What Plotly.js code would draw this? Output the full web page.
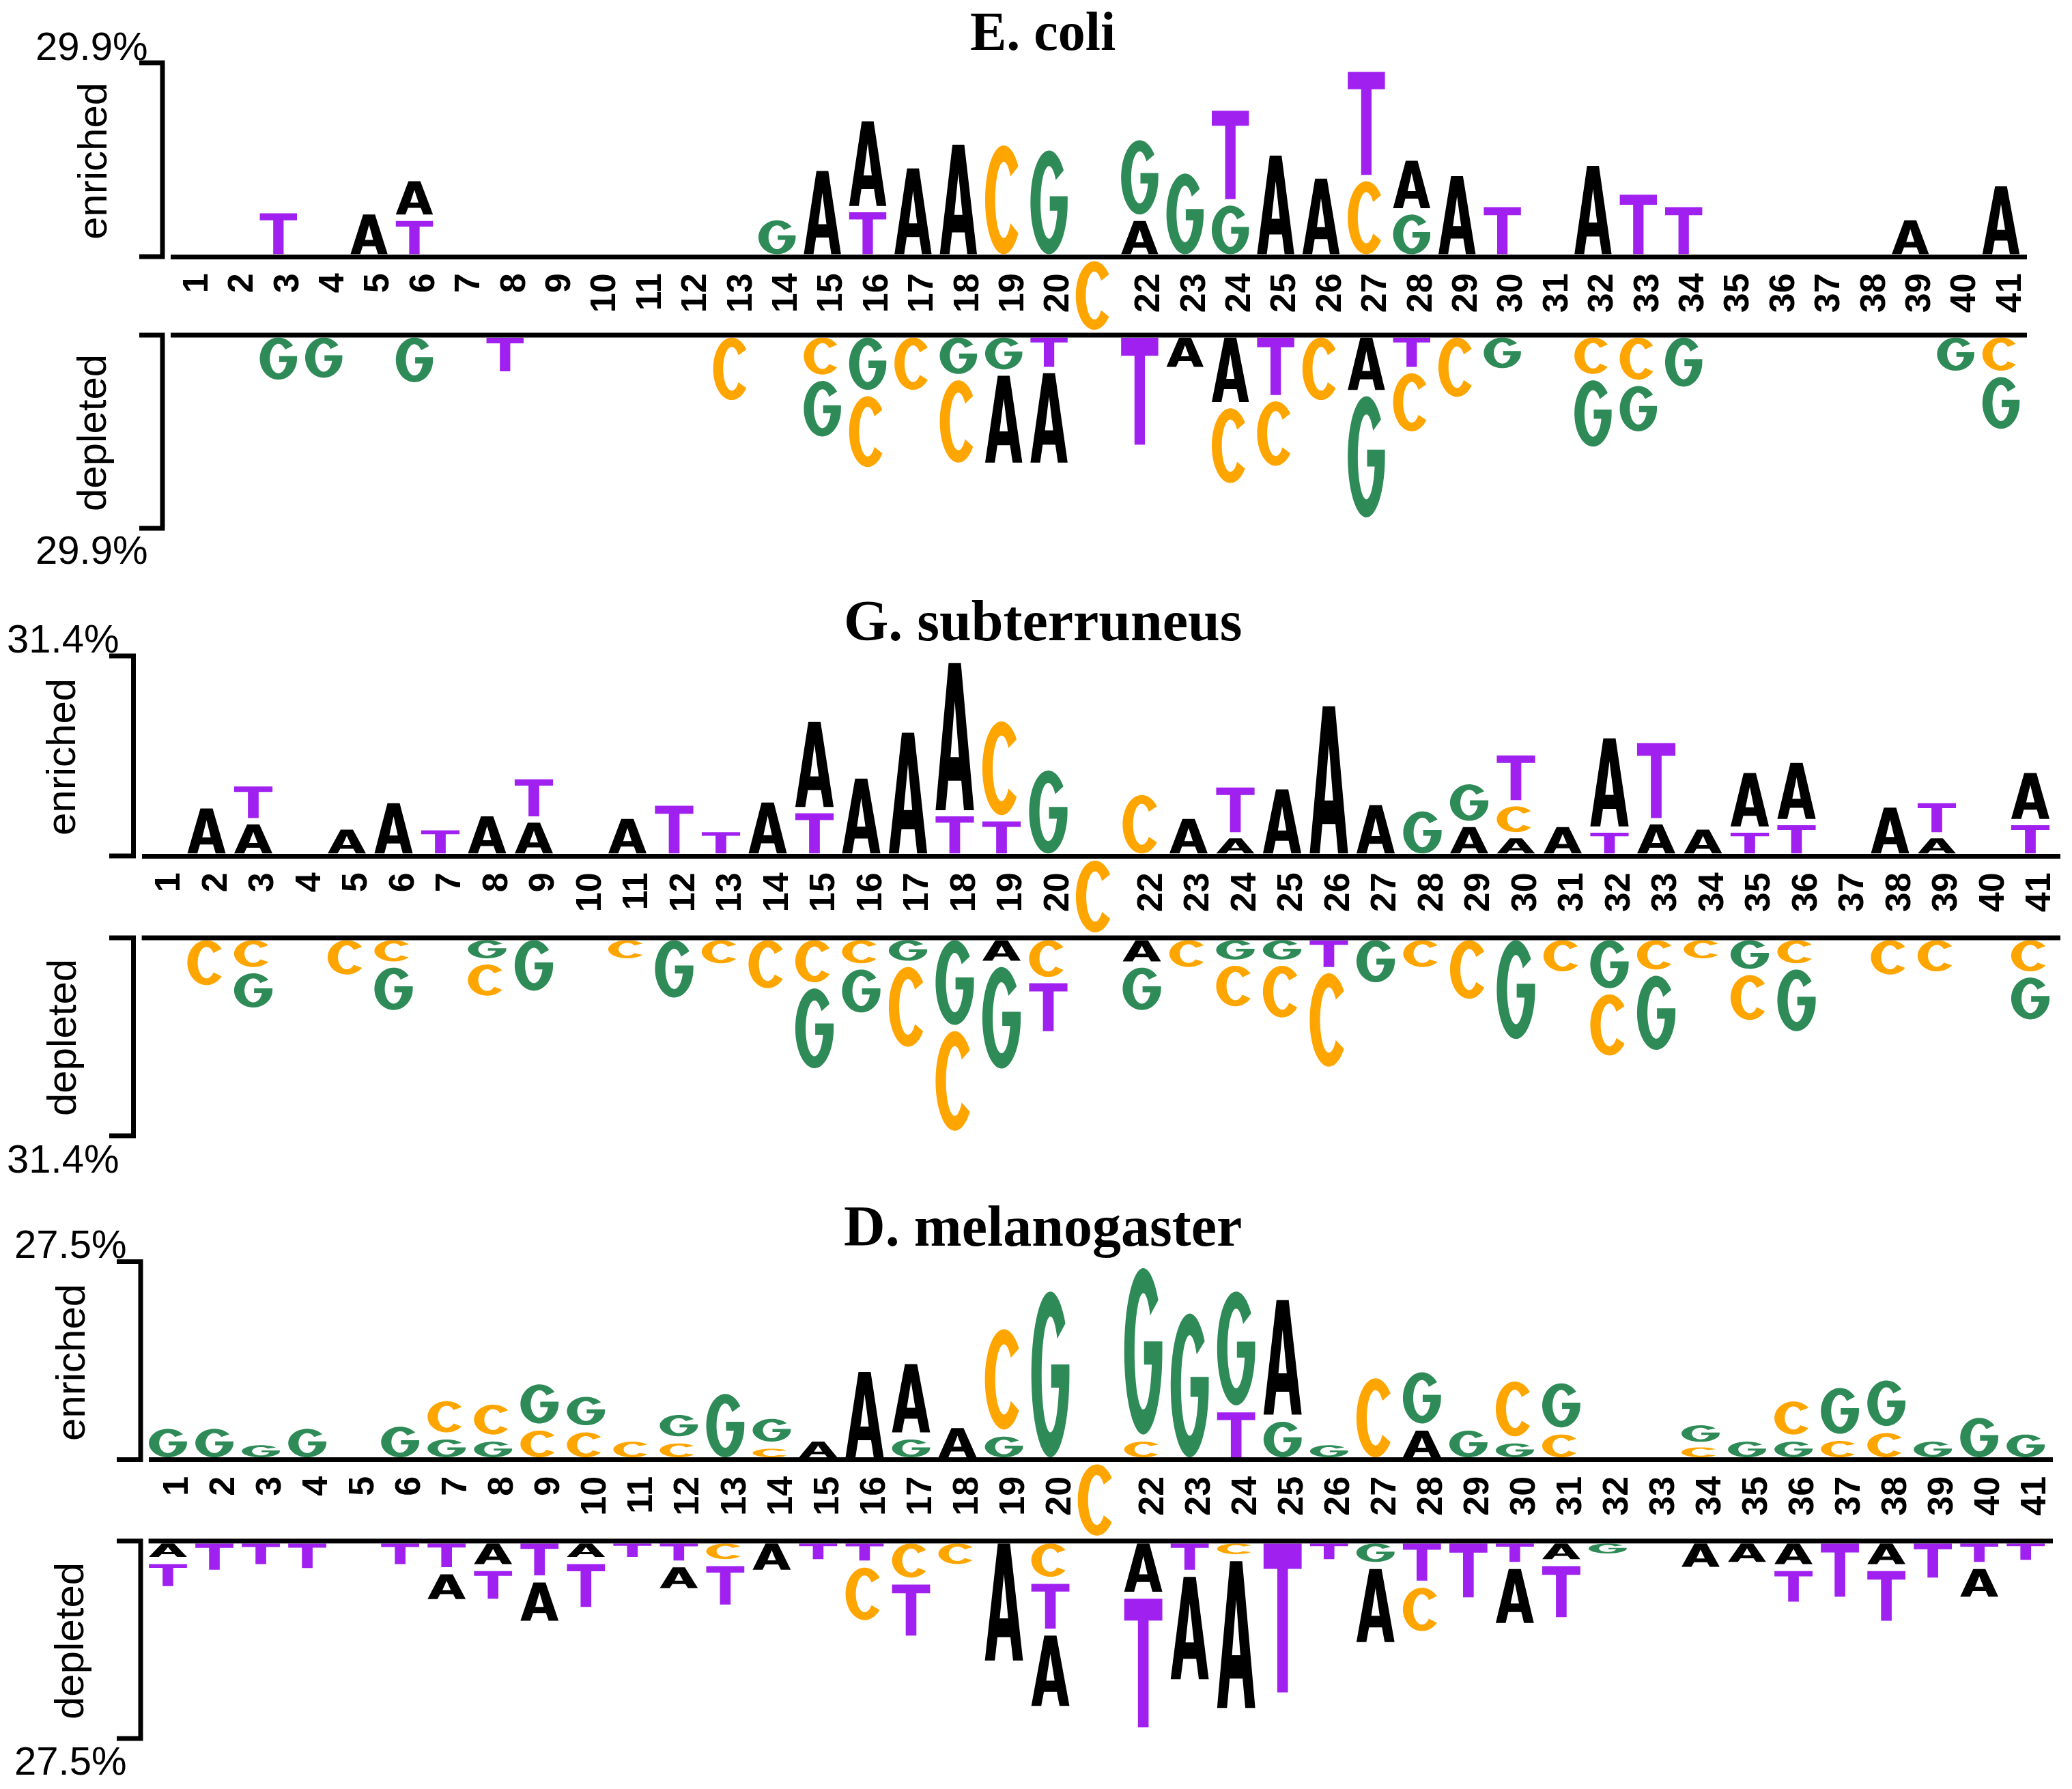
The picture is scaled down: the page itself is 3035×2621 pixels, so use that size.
<!DOCTYPE html>
<html>
<head>
<meta charset="utf-8">
<script src="https://cdn.plot.ly/plotly-3.0.1.min.js"></script>
<style>html,body{margin:0;padding:0;background:#fff}</style>
</head>
<body>
<div id="chart" style="width:3035px;height:2621px"></div>
<script>
// ---------------- DATA ----------------
const speciesTitles = ['E. coli', 'G. subterruneus', 'D. melanogaster'];
const scaleMax = [29.9, 31.4, 27.5];
const scaleLabels = ['29.9%', '31.4%', '27.5%'];
const tickPositions = [1,2,3,4,5,6,7,8,9,10,11,12,13,14,15,16,17,18,19,20,22,23,24,25,26,27,28,29,30,31,32,33,34,35,36,37,38,39,40,41];
const tickText = ['1','2','3','4','5','6','7','8','9','10','11','12','13','14','15','16','17','18','19','20','22','23','24','25','26','27','28','29','30','31','32','33','34','35','36','37','38','39','40','41'];
const centerPosition = 21;
const centerBase = 'C';

// [position, base, height %] listed from the baseline outward
const ecoliEnriched = [
  [3,'T',6.4],[5,'A',6.2],[6,'T',5.2],[6,'A',6.2],[14,'G',5.3],[15,'A',13.0],[16,'T',6.55],[16,'A',14.2],
  [17,'A',13.4],[18,'A',17.1],[19,'C',17.0],[20,'G',16.2],[22,'A',5.2],[22,'G',12.6],[23,'G',12.6],
  [24,'G',7.6],[24,'T',14.8],[25,'A',15.4],[26,'A',11.8],[27,'C',11.4],[27,'T',17.1],[28,'G',6.2],[28,'A',8.4],
  [29,'A',12.2],[30,'T',7.35],[32,'A',13.8],[33,'T',9.3],[34,'T',7.35],[39,'A',5.3],[41,'A',10.6]
];
const ecoliDepleted = [
  [3,'G',6.6],[4,'G',6.3],[6,'G',7.0],[8,'T',5.3],[13,'C',9.8],[15,'C',5.8],[15,'G',9.7],[16,'G',8.2],[16,'C',12.1],
  [17,'C',8.2],[18,'G',5.7],[18,'C',13.9],[19,'G',5.0],[19,'A',14.6],[20,'T',4.6],[20,'A',15.0],[22,'T',16.8],
  [23,'A',4.6],[24,'A',10.1],[24,'C',12.7],[25,'T',9.0],[25,'C',11.1],[26,'C',9.8],[27,'A',8.2],[27,'G',20.0],
  [28,'T',4.6],[28,'C',10.1],[29,'C',9.3],[30,'G',4.8],[32,'C',5.7],[32,'G',11.4],[33,'C',6.6],[33,'G',8.1],
  [34,'G',7.7],[40,'G',5.2],[41,'C',5.2],[41,'G',9.1]
];
const gsubEnriched = [
  [2,'A',7.15],[3,'A',4.65],[3,'T',6.0],[5,'A',3.8],[6,'A',8.0],[7,'T',3.7],[8,'A',5.9],[9,'A',4.9],[9,'T',6.9],
  [11,'A',5.5],[12,'T',7.6],[13,'T',3.4],[14,'A',8.1],[15,'T',6.4],[15,'A',14.5],[16,'A',11.9],[17,'A',19.2],
  [18,'T',5.9],[18,'A',24.4],[19,'T',5.1],[19,'C',15.9],[20,'G',13.2],[22,'C',9.3],[23,'A',5.5],[24,'A',2.4],
  [24,'T',8.1],[25,'A',10.2],[26,'A',23.4],[27,'A',7.7],[28,'G',6.7],[29,'A',4.2],[29,'G',6.8],[30,'A',2.4],
  [30,'C',5.1],[30,'T',8.1],[31,'A',4.2],[32,'T',3.3],[32,'A',15.0],[33,'A',4.65],[33,'T',12.9],[34,'A',3.8],
  [35,'T',3.3],[35,'A',9.5],[36,'T',4.5],[36,'A',9.9],[38,'A',7.3],[39,'A',2.4],[39,'T',5.6],[41,'T',4.5],[41,'A',8.3]
];
const gsubDepleted = [
  [2,'C',7.2],[3,'C',4.3],[3,'G',6.5],[5,'C',5.5],[6,'C',3.4],[6,'G',7.8],[8,'G',2.9],[8,'C',6.0],[9,'G',8.1],
  [11,'C',2.9],[12,'G',9.2],[13,'C',3.7],[14,'C',7.7],[15,'C',6.75],[15,'G',13.8],[16,'C',3.7],[16,'G',7.9],
  [17,'G',3.3],[17,'C',13.8],[18,'G',13.6],[18,'C',17.0],[19,'A',3.3],[19,'G',17.3],[20,'C',5.9],[20,'T',8.7],
  [22,'A',3.4],[22,'G',7.8],[23,'C',4.3],[24,'G',3.1],[24,'C',7.5],[25,'G',3.1],[25,'C',9.3],[26,'T',4.3],
  [26,'C',16.0],[27,'G',6.75],[28,'C',4.3],[29,'C',9.4],[30,'G',15.85],[31,'C',5.0],[32,'G',7.7],[32,'C',10.8],
  [33,'C',4.7],[33,'G',12.9],[34,'C',2.9],[35,'G',4.6],[35,'C',8.2],[36,'C',3.7],[36,'G',10.9],[38,'C',5.5],
  [39,'C',5.0],[41,'C',5.0],[41,'G',7.7]
];
const dmelEnriched = [
  [1,'G',4.0],[2,'G',4.0],[3,'G',1.7],[4,'G',4.0],[6,'G',4.3],[7,'G',2.5],[7,'C',5.4],[8,'G',2.2],[8,'C',5.2],
  [9,'C',3.75],[9,'G',6.5],[10,'C',3.5],[10,'G',5.0],[11,'C',2.2],[12,'C',1.95],[12,'G',4.0],[13,'G',8.9],
  [14,'C',1.2],[14,'G',4.2],[15,'A',2.2],[16,'A',12.0],[17,'G',2.5],[17,'A',10.6],[18,'A',4.1],[19,'G',2.9],
  [19,'C',15.1],[20,'G',23.3],[22,'C',2.2],[22,'G',24.4],[23,'G',20.2],[24,'T',6.3],[24,'G',17.0],[25,'G',5.0],
  [25,'A',17.1],[26,'G',1.7],[27,'C',11.1],[28,'A',3.75],[28,'G',8.2],[29,'G',3.75],[30,'G',1.95],[30,'C',8.7],
  [31,'C',3.2],[31,'G',7.2],[34,'C',1.4],[34,'G',3.1],[35,'G',2.2],[36,'G',2.2],[36,'C',5.65],[37,'C',2.3],
  [37,'G',7.45],[38,'C',3.4],[38,'G',7.4],[39,'G',2.2],[40,'G',5.55],[41,'G',3.2]
];
const dmelDepleted = [
  [1,'A',1.9],[1,'T',4.1],[2,'T',3.7],[3,'T',2.9],[4,'T',3.45],[6,'T',2.9],[7,'T',3.35],[7,'A',4.5],[8,'A',2.9],
  [8,'T',4.9],[9,'T',4.5],[9,'A',6.4],[10,'A',1.9],[10,'T',7.05],[11,'T',1.9],[12,'T',2.4],[12,'A',3.9],
  [13,'C',2.2],[13,'T',6.4],[14,'A',3.7],[15,'T',2.2],[16,'T',2.4],[16,'C',8.4],[17,'C',4.8],[17,'T',8.2],
  [18,'C',2.9],[19,'A',16.5],[20,'C',4.7],[20,'T',7.3],[20,'A',10.9],[22,'A',6.8],[22,'T',19.1],[23,'T',3.7],
  [23,'A',15.45],[24,'C',1.5],[24,'A',21.7],[25,'T',21.0],[26,'T',2.2],[27,'G',2.6],[27,'A',11.3],[28,'T',5.25],
  [28,'C',7.1],[29,'T',7.6],[30,'T',2.6],[30,'A',8.6],[31,'A',2.2],[31,'T',8.2],[32,'G',1.4],[34,'A',3.3],
  [35,'A',2.6],[36,'A',2.9],[36,'T',5.3],[37,'T',7.5],[38,'A',2.9],[38,'T',8.0],[39,'T',4.8],[40,'T',2.6],
  [40,'A',4.9],[41,'T',2.3]
];
const enrichedSets = [ecoliEnriched, gsubEnriched, dmelEnriched];
const depletedSets = [ecoliDepleted, gsubDepleted, dmelDepleted];

// ---------------- STYLE / LAYOUT GEOMETRY (pixels) ----------------
const W = 3035, H = 2621;
const COLORS = {A:'#000000', C:'#FFA500', G:'#2E8B57', T:'#A020F0'};
const GEOM = [
  {xL:250, xR:2969, x1:275, dx:66.4, eTop:92, eBase:376, dBase:491, dBot:774, brX:238, brT:204,
   titleY:46, titleSize:80, pctR:218, pctTopY:67, pctBotY:805, labEX:136, labEY:236, labDX:134, labDY:634},
  {xL:207.6, xR:3018, x1:234, dx:68.5, eTop:961, eBase:1254, dBase:1374, dBot:1664, brX:195.5, brT:160,
   titleY:909, titleSize:84, pctR:176, pctTopY:935, pctBotY:1697, labEX:89, labEY:1109, labDX:91, labDY:1520},
  {xL:217.6, xR:3007, x1:246, dx:68.03, eTop:1848.5, eBase:2138.5, dBase:2257.8, dBot:2547, brX:206, brT:171,
   titleY:1796, titleSize:84, pctR:187, pctTopY:1822, pctBotY:2579, labEX:103, labEY:1996, labDX:101, labDY:2404}
];
const LETTER_W = 0.82;
const TICK_SHIFT = 0.18;
const LINE_W = 7;

// glyph outlines in a unit box
function ell(rx, ry, a0, a1, n) {
  const pts = [];
  for (let i = 0; i <= n; i++) {
    const t = (a0 + (a1 - a0) * i / n) * Math.PI / 180;
    pts.push([0.5 + rx * Math.cos(t), 0.5 + ry * Math.sin(t)]);
  }
  return pts;
}
const IRX = 0.23, IRY = 0.35;
const gInnerStart = 360 - Math.asin(0.08 / IRY) * 180 / Math.PI;
const GLYPH = {
  A: [[[0,0],[0.34,1],[0.66,1],[1,0],[0.74,0],[0.67,0.2],[0.33,0.2],[0.26,0]],
      [[0.39,0.36],[0.61,0.36],[0.5,0.74]]],
  T: [[[0,1],[1,1],[1,0.83],[0.64,0.83],[0.64,0],[0.36,0],[0.36,0.83],[0,0.83]]],
  C: [ell(0.5,0.5,38,322,64).concat(ell(IRX,IRY,322,38,48))],
  G: [ell(0.5,0.5,38,360,64).concat([[1,0.56],[0.52,0.56],[0.52,0.42]]).concat(ell(IRX,IRY,gInnerStart,38,48))]
};
function glyphPath(letter, xc, w, y0, y1) {
  const h = y1 - y0;
  return GLYPH[letter].map(c => 'M' + c.map(([u,v]) =>
    (xc + (u - 0.5) * w).toFixed(4) + ',' + (y0 + v * h).toFixed(4)).join('L') + 'Z').join(' ');
}
function stackShapes(list, xName, yName, dir) {
  const cum = {};
  const out = [];
  list.forEach(([p, L, h]) => {
    const c = cum[p] || 0;
    const gap = c > 0 ? Math.min(1.0, 0.25 * h) : 0;
    let y0, y1;
    if (dir > 0) { y0 = c + gap; y1 = c + h; }
    else { y1 = -(c + gap); y0 = -(c + h); }
    cum[p] = c + h;
    out.push({type:'path', xref:xName, yref:yName, path:glyphPath(L, p, LETTER_W, y0, y1),
              fillcolor:COLORS[L], line:{width:0}, layer:'above'});
  });
  return out;
}

const px = v => v / W;
const py = v => 1 - v / H;
const axName = (k, n) => n === 1 ? k : k + n;

const layout = {
  width: W, height: H, margin:{l:0,r:0,t:0,b:0},
  paper_bgcolor:'#ffffff', plot_bgcolor:'rgba(0,0,0,0)', showlegend:false,
  shapes: [], annotations: []
};
const traces = [];
const sansFont = 'Liberation Sans, Arial, Helvetica, sans-serif';
const serifFont = 'Liberation Serif, Times New Roman, serif';

GEOM.forEach((g, i) => {
  const xn = i + 1;
  const yE = i * 3 + 1, yD = i * 3 + 2, yM = i * 3 + 3;
  const xName = axName('x', xn);
  const yEName = axName('y', yE), yDName = axName('y', yD), yMName = axName('y', yM);
  const xmin = 1 + (g.xL - g.x1) / g.dx, xmax = 1 + (g.xR - g.x1) / g.dx;
  const half = LINE_W / 2;

  layout[axName('xaxis', xn)] = {
    domain:[px(g.xL), px(g.xR)], anchor:yEName, range:[xmin, xmax],
    tickmode:'array', tickvals:tickPositions.map(p => p + TICK_SHIFT), ticktext:tickText,
    tickangle:-90, tickfont:{family:sansFont, size:52, color:'#000', weight:'bold'},
    ticks:'', showline:true, linewidth:LINE_W, linecolor:'#000', showgrid:false, zeroline:false,
    fixedrange:true
  };
  const yBase = {showgrid:false, zeroline:false, showticklabels:false, showline:false, ticks:'', fixedrange:true, anchor:xName};
  layout[axName('yaxis', yE)] = Object.assign({}, yBase, {domain:[py(g.eBase - half), py(g.eTop)], range:[0, scaleMax[i]]});
  layout[axName('yaxis', yD)] = Object.assign({}, yBase, {domain:[py(g.dBot), py(g.dBase + half)], range:[-scaleMax[i], 0]});
  layout[axName('yaxis', yM)] = Object.assign({}, yBase, {domain:[py(g.dBase - half), py(g.eBase + half)], range:[0, 1]});
  [yEName, yDName, yMName].forEach(yn => traces.push({type:'scatter', x:[null], y:[null], xaxis:xName, yaxis:yn,
    mode:'markers', showlegend:false, hoverinfo:'skip'}));

  // letters
  layout.shapes.push(...stackShapes(enrichedSets[i], xName, yEName, 1));
  layout.shapes.push(...stackShapes(depletedSets[i], xName, yDName, -1));
  // central reference base
  layout.shapes.push({type:'path', xref:xName, yref:yMName,
    path:glyphPath(centerBase, centerPosition, LETTER_W, 0.04, 0.97),
    fillcolor:COLORS[centerBase], line:{width:0}, layer:'above'});

  // depleted baseline
  layout.shapes.push({type:'line', xref:'paper', yref:'paper', x0:px(g.xL), x1:px(g.xR), y0:py(g.dBase), y1:py(g.dBase),
    line:{color:'#000', width:LINE_W}});
  // brackets
  const br = (t, b) => `M${px(g.brT)},${py(t)} L${px(g.brX)},${py(t)} L${px(g.brX)},${py(b)} L${px(g.brT)},${py(b)}`;
  layout.shapes.push({type:'path', xref:'paper', yref:'paper', path:br(g.eTop, g.eBase), line:{color:'#000', width:LINE_W}});
  layout.shapes.push({type:'path', xref:'paper', yref:'paper', path:br(g.dBase, g.dBot), line:{color:'#000', width:LINE_W}});

  // text
  layout.annotations.push({text:speciesTitles[i], xref:'paper', yref:'paper', x:px(1527), y:py(g.titleY),
    xanchor:'center', yanchor:'middle', showarrow:false, borderpad:0,
    font:{family:serifFont, size:g.titleSize, color:'#000', weight:'bold'}});
  layout.annotations.push({text:scaleLabels[i], xref:'paper', yref:'paper', x:px(g.pctR), y:py(g.pctTopY),
    xanchor:'right', yanchor:'middle', showarrow:false, font:{family:sansFont, size:58, color:'#000'}});
  layout.annotations.push({text:scaleLabels[i], xref:'paper', yref:'paper', x:px(g.pctR), y:py(g.pctBotY),
    xanchor:'right', yanchor:'middle', showarrow:false, font:{family:sansFont, size:58, color:'#000'}});
  layout.annotations.push({text:'enriched', xref:'paper', yref:'paper', x:px(g.labEX), y:py(g.labEY),
    xanchor:'center', yanchor:'middle', textangle:-90, showarrow:false, font:{family:sansFont, size:60, color:'#000'}});
  layout.annotations.push({text:'depleted', xref:'paper', yref:'paper', x:px(g.labDX), y:py(g.labDY),
    xanchor:'center', yanchor:'middle', textangle:-90, showarrow:false, font:{family:sansFont, size:60, color:'#000'}});
});

Plotly.newPlot('chart', traces, layout, {staticPlot:true, displayModeBar:false});
</script>
</body>
</html>
